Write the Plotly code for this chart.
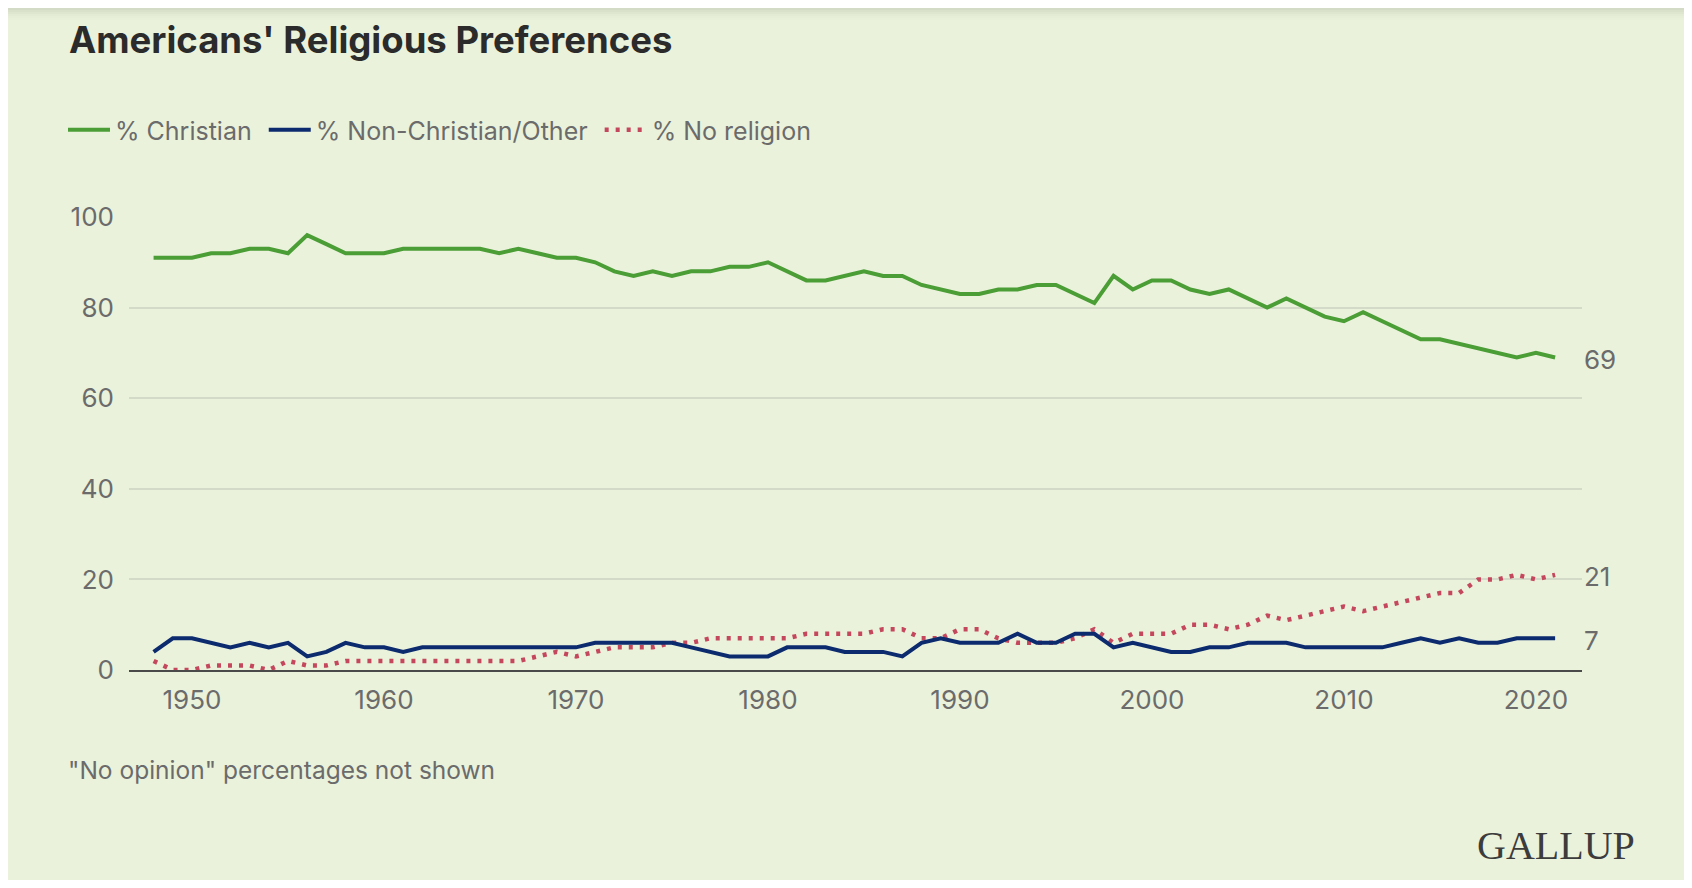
import plotly.graph_objects as go

# ── DATA ──────────────────────────────────────────────────────
years = list(range(1948, 2022))

christian = [
    91, 91, 91, 92, 92, 93, 93, 92, 96, 94,
    92, 92, 92, 93, 93, 93, 93, 93, 92, 93,
    92, 91, 91, 90, 88, 87, 88, 87, 88, 88,
    89, 89, 90, 88, 86, 86, 87, 88, 87, 87,
    85, 84, 83, 83, 84, 84, 85, 85, 83, 81,
    87, 84, 86, 86, 84, 83, 84, 82, 80, 82,
    80, 78, 77, 79, 77, 75, 73, 73, 72, 71,
    70, 69, 70, 69,
]

non_christian = [
    4, 7, 7, 6, 5, 6, 5, 6, 3, 4,
    6, 5, 5, 4, 5, 5, 5, 5, 5, 5,
    5, 5, 5, 6, 6, 6, 6, 6, 5, 4,
    3, 3, 3, 5, 5, 5, 4, 4, 4, 3,
    6, 7, 6, 6, 6, 8, 6, 6, 8, 8,
    5, 6, 5, 4, 4, 5, 5, 6, 6, 6,
    5, 5, 5, 5, 5, 6, 7, 6, 7, 6,
    6, 7, 7, 7,
]

no_religion = [
    2, 0, 0, 1, 1, 1, 0, 2, 1, 1,
    2, 2, 2, 2, 2, 2, 2, 2, 2, 2,
    3, 4, 3, 4, 5, 5, 5, 6, 6, 7,
    7, 7, 7, 7, 8, 8, 8, 8, 9, 9,
    7, 7, 9, 9, 7, 6, 6, 6, 7, 9,
    6, 8, 8, 8, 10, 10, 9, 10, 12, 11,
    12, 13, 14, 13, 14, 15, 16, 17, 17, 20,
    20, 21, 20, 21,
]

tick_years = [1950, 1960, 1970, 1980, 1990, 2000, 2010, 2020]
y_ticks = [0, 20, 40, 60, 80, 100]

# ── STYLE ─────────────────────────────────────────────────────
BG    = "#eaf2dc"
GREEN = "#4b9d35"
NAVY  = "#0c2a6e"
RED   = "#c4475d"
GREY  = "#6b6b6b"
FONT  = "Inter, Roboto, Arial, sans-serif"
NBSP  = "\u00a0"   # a little extra room between legend entries

# page body has an 8px margin, so the figure is 8px smaller than the window
W, H = 1676, 872
L, R, T, B = 121, 102, 209, 210
PW, PH = W - L - R, H - T - B


def px_x(x):
    return (x - L) / PW


def px_y(y):
    return 1 - (y - T) / PH


fig = go.Figure()

fig.add_trace(go.Scatter(
    x=years, y=christian, name="% Christian" + NBSP, mode="lines",
    line=dict(color=GREEN, width=4), legendrank=1,
    hovertemplate="%{x}: %{y}%<extra>Christian</extra>",
))
fig.add_trace(go.Scatter(
    x=years, y=no_religion, name="% No religion", mode="lines",
    line=dict(color=RED, width=4.5, dash="4px,7px"), legendrank=3,
    hovertemplate="%{x}: %{y}%<extra>No religion</extra>",
))
fig.add_trace(go.Scatter(
    x=years, y=non_christian, name="% Non-Christian/Other" + NBSP, mode="lines",
    line=dict(color=NAVY, width=4), legendrank=2,
    hovertemplate="%{x}: %{y}%<extra>Non-Christian/Other</extra>",
))

# end-of-line value labels
for series in (christian, no_religion, non_christian):
    fig.add_annotation(
        x=1, xref="paper", xanchor="left", xshift=0,
        y=series[-1], yref="y", yshift=-2,
        text=str(series[-1]), showarrow=False,
        font=dict(size=26, color=GREY, family=FONT),
    )

# footnote and logo
fig.add_annotation(
    x=px_x(58), xref="paper", xanchor="left",
    y=px_y(762), yref="paper", yanchor="middle",
    text='"No opinion" percentages not shown', showarrow=False,
    font=dict(size=24.5, color=GREY, family=FONT),
)
fig.add_annotation(
    x=px_x(1629), xref="paper", xanchor="right",
    y=px_y(837), yref="paper", yanchor="middle",
    text="GALLUP", showarrow=False,
    font=dict(size=40, color="#3c3c3c", family="Liberation Serif, Times New Roman, serif"),
)

# soft shadow along the top edge
for i, op in enumerate([0.20, 0.15, 0.10, 0.06, 0.03, 0.015]):
    fig.add_shape(type="rect", xref="paper", yref="paper", layer="above",
                  x0=px_x(0), x1=px_x(W),
                  y0=px_y(2 * i + 2), y1=px_y(2 * i),
                  fillcolor=f"rgba(120,130,110,{op})", line_width=0)

fig.update_layout(
    width=W, height=H,
    paper_bgcolor=BG, plot_bgcolor=BG,
    font=dict(family=FONT, color=GREY, size=25),
    margin=dict(l=L, r=R, t=T, b=B),
    title=dict(
        text="<b>Americans' Religious Preferences</b>",
        x=61 / W, xanchor="left", xref="container",
        y=1 - 32 / H, yanchor="middle", yref="container",
        font=dict(size=36.5, color="#2b2b2b", family=FONT),
    ),
    legend=dict(
        orientation="h", x=px_x(55), xanchor="left",
        y=px_y(122), yanchor="middle",
        font=dict(size=25, color=GREY, family=FONT),
        bgcolor="rgba(0,0,0,0)", traceorder="normal",
        itemwidth=42,
    ),
    xaxis=dict(
        range=[1946.72, 2022.4],
        tickvals=tick_years, ticktext=[str(t) for t in tick_years],
        showgrid=False, zeroline=False,
        showline=True, linecolor="#4a4a4a", linewidth=2,
        ticks="", ticklabelstandoff=6,
        tickfont=dict(size=26, color=GREY, family=FONT),
    ),
    yaxis=dict(
        range=[0, 100], tickvals=y_ticks,
        showgrid=True, gridcolor="#d3dac8", gridwidth=1.5,
        zeroline=False, ticks="", ticklabelstandoff=14,
        tickfont=dict(size=26, color=GREY, family=FONT),
    ),
    showlegend=True,
)

fig.write_html("out.html")
